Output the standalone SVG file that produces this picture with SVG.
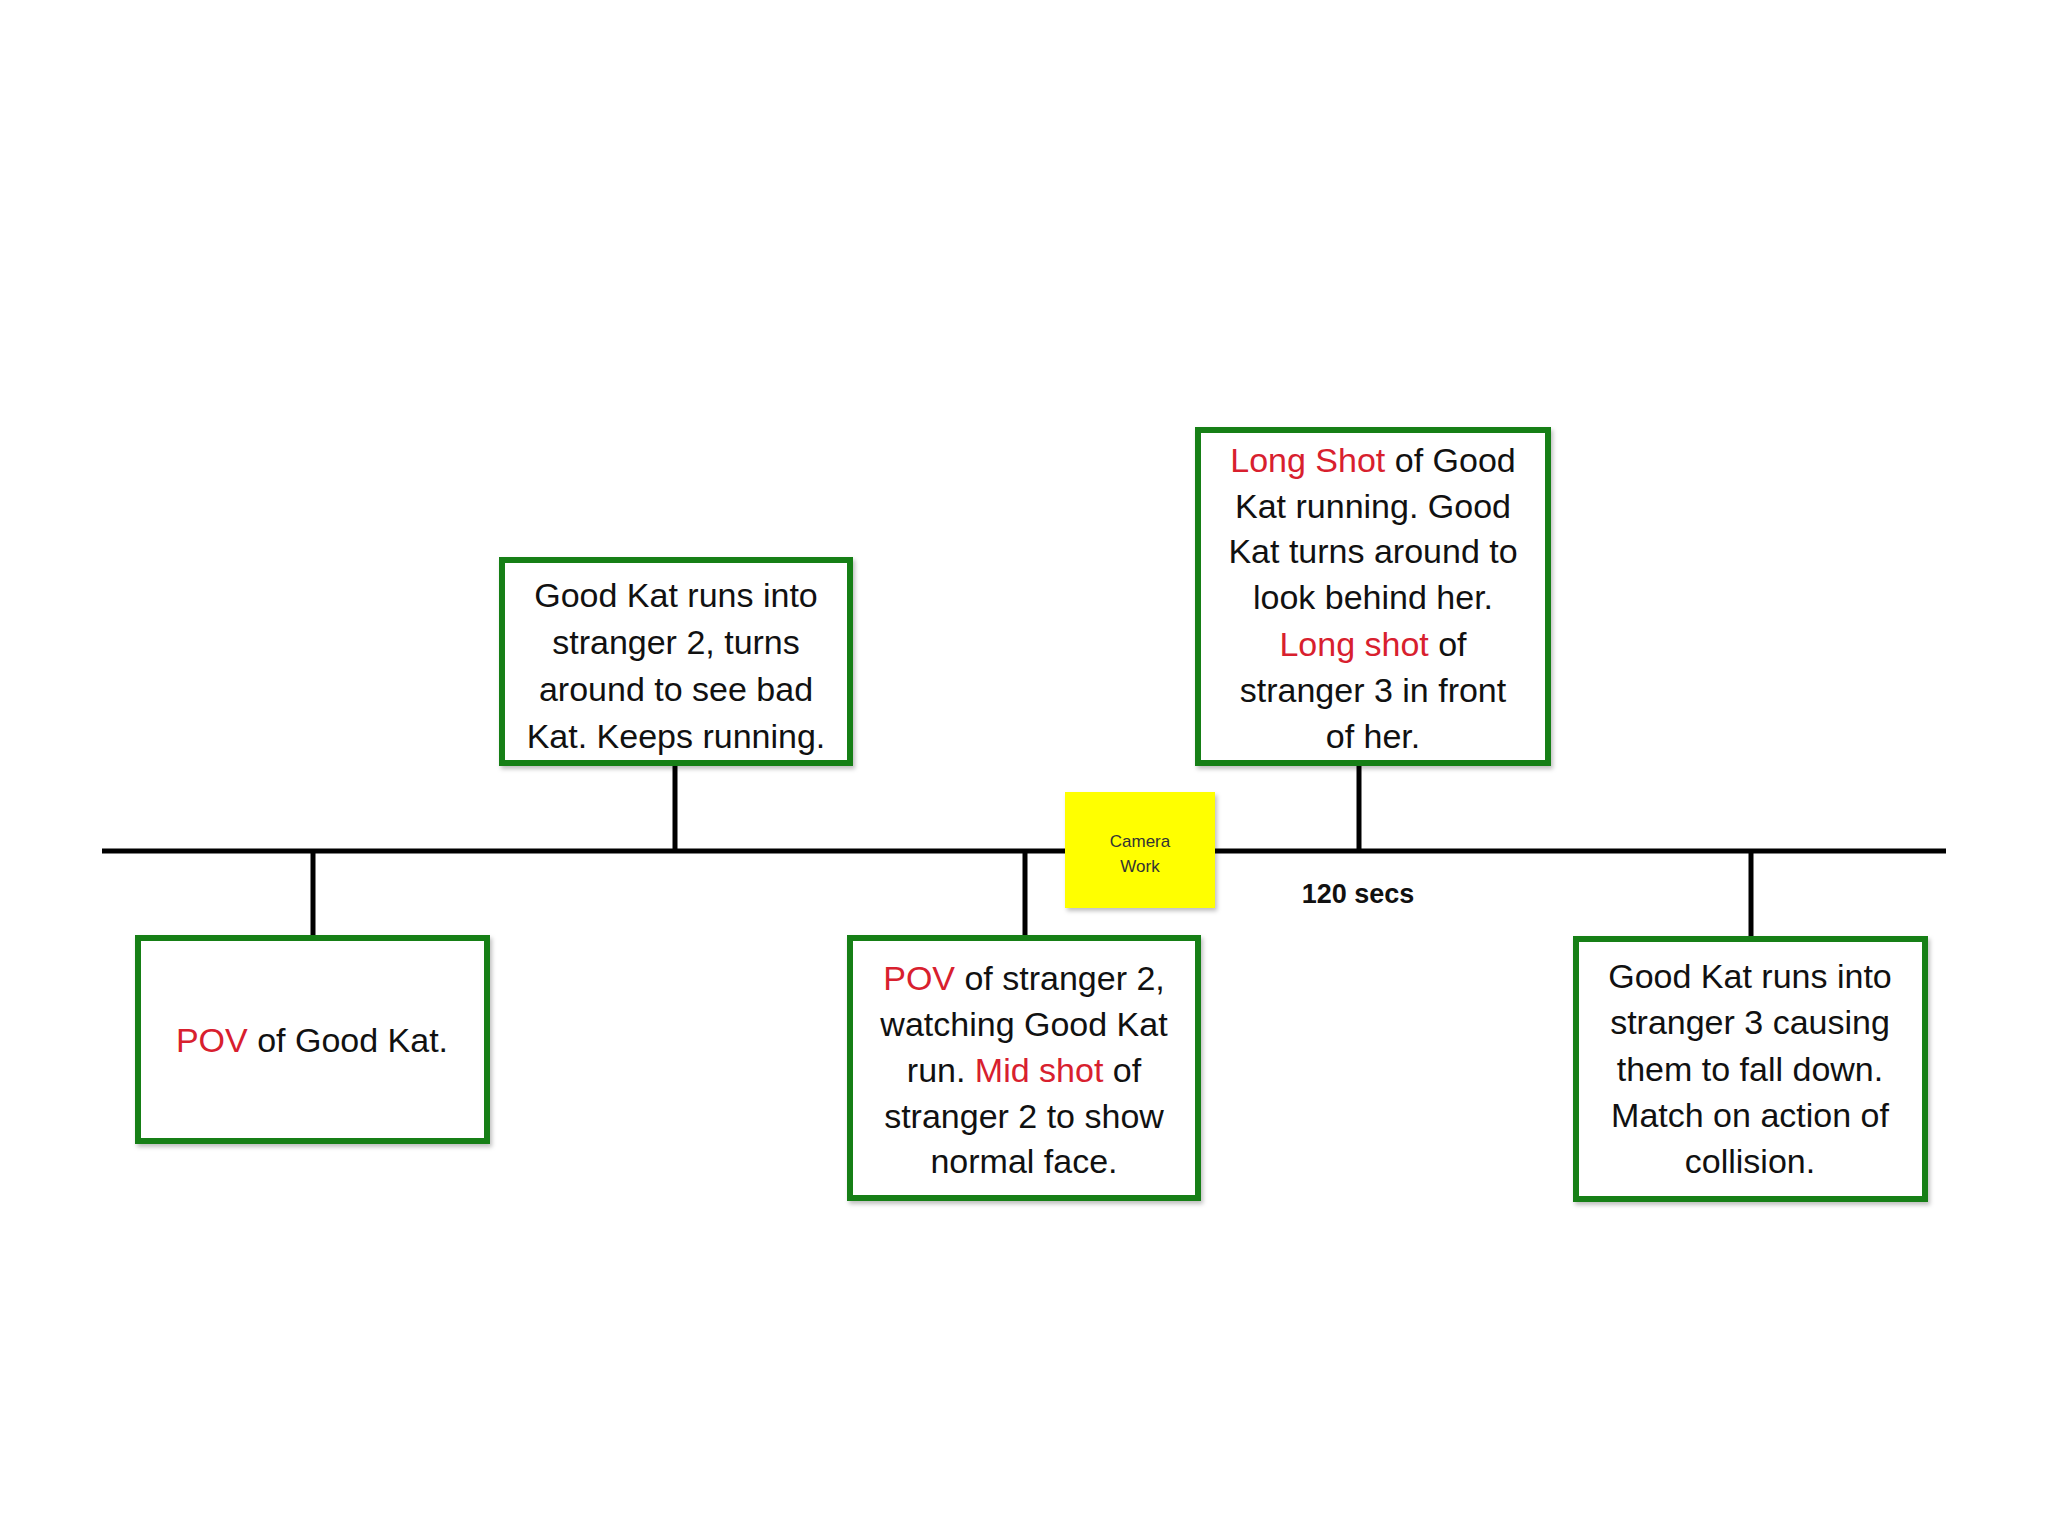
<svg xmlns="http://www.w3.org/2000/svg" width="2048" height="1536" viewBox="0 0 2048 1536">
<defs>
<filter id="sh" x="-5%" y="-5%" width="115%" height="115%">
<feDropShadow dx="2" dy="3" stdDeviation="2" flood-color="#000" flood-opacity="0.25"/>
</filter>
</defs>
<style>
.box{fill:#fff;stroke:#127f12;stroke-width:6;filter:url(#sh)}
.t{font-family:"Liberation Sans",Arial,sans-serif;font-size:34px;fill:#111;text-anchor:middle}
.r{fill:#d8202e}
.ln{stroke:#000;stroke-width:5;fill:none}
</style>
<rect width="2048" height="1536" fill="#fff"/>
<g id="connectors">
<line class="ln" x1="102" y1="851" x2="1946" y2="851"/>
<line class="ln" x1="313" y1="851" x2="313" y2="938"/>
<line class="ln" x1="675" y1="763" x2="675" y2="851"/>
<line class="ln" x1="1025" y1="851" x2="1025" y2="938"/>
<line class="ln" x1="1359" y1="763" x2="1359" y2="851"/>
<line class="ln" x1="1751" y1="851" x2="1751" y2="939"/>
</g>
<g id="node1">
<rect class="box" x="138" y="938" width="349" height="203"/>
<text class="t" x="312" y="1052"><tspan class="r">POV</tspan> of Good Kat.</text>
</g>
<g id="node2">
<rect class="box" x="502" y="560" width="348" height="203"/>
<text class="t" x="676" y="607">Good Kat runs into</text>
<text class="t" x="676" y="654">stranger 2, turns</text>
<text class="t" x="676" y="701">around to see bad</text>
<text class="t" x="676" y="748">Kat. Keeps running.</text>
</g>
<g id="node3">
<rect class="box" x="850" y="938" width="348" height="260"/>
<text class="t" x="1024" y="990"><tspan class="r">POV</tspan> of stranger 2,</text>
<text class="t" x="1024" y="1036">watching Good Kat</text>
<text class="t" x="1024" y="1082">run. <tspan class="r">Mid shot</tspan> of</text>
<text class="t" x="1024" y="1128">stranger 2 to show</text>
<text class="t" x="1024" y="1173">normal face.</text>
</g>
<g id="node4">
<rect class="box" x="1198" y="430" width="350" height="333"/>
<text class="t" x="1373" y="472"><tspan class="r">Long Shot</tspan> of Good</text>
<text class="t" x="1373" y="518">Kat running. Good</text>
<text class="t" x="1373" y="563">Kat turns around to</text>
<text class="t" x="1373" y="609">look behind her.</text>
<text class="t" x="1373" y="656"><tspan class="r">Long shot</tspan> of</text>
<text class="t" x="1373" y="702">stranger 3 in front</text>
<text class="t" x="1373" y="748">of her.</text>
</g>
<g id="node5">
<rect class="box" x="1576" y="939" width="349" height="260"/>
<text class="t" x="1750" y="988">Good Kat runs into</text>
<text class="t" x="1750" y="1034">stranger 3 causing</text>
<text class="t" x="1750" y="1081">them to fall down.</text>
<text class="t" x="1750" y="1127">Match on action of</text>
<text class="t" x="1750" y="1173">collision.</text>
</g>
<g id="camera-work">
<rect x="1065" y="792" width="150" height="116" fill="#ffff00" filter="url(#sh)"/>
<text x="1140" y="847" font-family="Liberation Sans,Arial,sans-serif" font-size="17" fill="#333" text-anchor="middle">Camera</text>
<text x="1140" y="872" font-family="Liberation Sans,Arial,sans-serif" font-size="17" fill="#333" text-anchor="middle">Work</text>
</g>
<g id="label-120">
<text x="1358" y="903" font-family="Liberation Sans,Arial,sans-serif" font-size="27" font-weight="bold" fill="#111" text-anchor="middle">120 secs</text>
</g>
</svg>
